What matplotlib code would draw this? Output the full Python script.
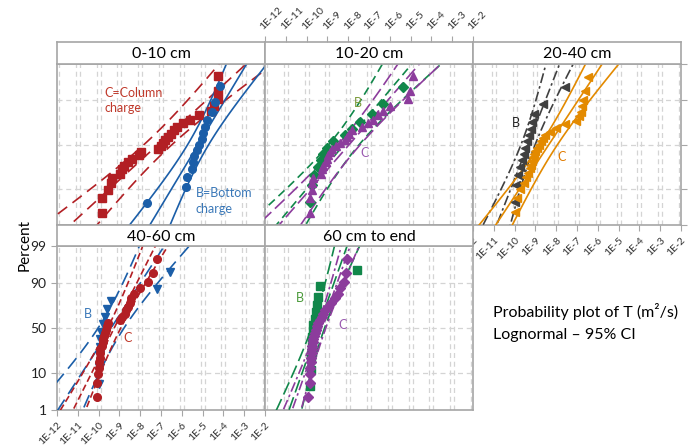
import numpy as np
import matplotlib
matplotlib.use('Agg')
import matplotlib.pyplot as plt
from matplotlib.ticker import NullLocator
from statistics import NormalDist

plt.rcParams['font.family'] = ['Lato', 'DejaVu Sans']

# log10 of T (m2/s), one list per depth / group
t_0_10_c = [-9.85, -9.85, -9.55, -9.40, -9.36, -8.97, -8.88, -8.78, -8.59, -8.39,
            -8.06, -7.96, -7.14, -7.00, -6.90, -6.81, -6.66, -6.52, -6.38, -6.23,
            -5.94, -5.61, -5.17, -4.60, -4.45, -4.26, -4.26, -4.26]
t_0_10_b = [-7.69, -5.81, -5.76, -5.52, -5.48, -5.41, -5.28, -5.16, -5.04, -4.97,
            -4.89, -4.80, -4.56, -4.40, -4.16]
t_10_20_b = [-9.84, -9.74, -9.64, -9.45, -9.31, -9.21, -9.02, -8.73, -8.15, -7.82,
             -7.43, -6.86, -6.33, -5.37]
t_10_20_c = [-9.84, -9.84, -9.76, -9.74, -9.69, -9.31, -9.26, -9.19, -9.07, -9.02,
             -8.95, -8.88, -8.78, -8.59, -8.39, -8.15, -8.06, -7.96, -7.82, -7.34,
             -7.05, -6.81, -6.57, -6.33, -5.99, -5.13, -5.03, -4.89]
t_20_40_b = [-9.98, -9.91, -9.84, -9.74, -9.64, -9.57, -9.48, -9.40, -9.31, -9.21,
             -9.16, -9.07, -8.64, -7.58]
t_20_40_c = [-9.98, -9.89, -9.74, -9.55, -9.45, -9.36, -9.26, -9.21, -9.16, -9.12,
             -9.07, -9.02, -8.92, -8.83, -8.73, -8.64, -8.54, -8.30, -8.01, -7.58,
             -7.05, -6.90, -6.81, -6.76, -6.71, -6.62, -6.47]
t_40_60_b = [-9.98, -9.96, -9.93, -9.91, -9.89, -9.93, -9.79, -9.69, -9.61, -9.40,
             -7.21, -6.57]
t_40_60_c = [-10.06, -10.06, -10.01, -9.98, -9.97, -9.95, -9.93, -9.91, -9.85, -9.81,
             -9.79, -9.74, -9.69, -9.64, -9.60, -9.53, -8.97, -8.88, -8.73, -8.68,
             -8.57, -8.51, -8.44, -8.30, -8.01, -7.61, -7.37, -7.21]
t_60_end_b = [-9.84, -9.81, -9.79, -9.76, -9.74, -9.72, -9.69, -9.67, -9.62, -9.57,
              -9.51, -9.44, -9.36, -7.59]
t_60_end_c = [-9.92, -9.86, -9.84, -9.84, -9.81, -9.79, -9.76, -9.74, -9.72, -9.69,
              -9.68, -9.64, -9.60, -9.55, -9.50, -9.43, -9.36, -9.26, -9.19, -9.12,
              -8.97, -8.83, -8.64, -8.49, -8.39, -8.20, -8.11, -8.07]

# fitted lognormal per group: (location in log10, scale in decades)
fit_0_10_c = (-7.14, 1.82)
fit_0_10_b = (-5.21, 1.0)
fit_10_20_b = (-8.2, 1.4)
fit_10_20_c = (-7.95, 1.45)
fit_20_40_b = (-9.35, 0.65)
fit_20_40_c = (-8.35, 1.1)
fit_40_60_b = (-9.4, 1.1)
fit_40_60_c = (-9.25, 0.85)
fit_60_end_b = (-9.45, 0.6)
fit_60_end_c = (-9.3, 0.6)

titles = ['0-10 cm', '10-20 cm', '20-40 cm', '40-60 cm', '60 cm to end']
decades = list(range(-12, -1))
pct_ticks = [1, 10, 50, 90, 99]

nd = NormalDist()
_ppf = np.vectorize(nd.inv_cdf, otypes=[float])
_cdf = np.vectorize(nd.cdf, otypes=[float])


def fwd(p):
    p = np.clip(np.asarray(p, float), 1e-4, 100 - 1e-4)
    return _ppf(p / 100.0)


def inv(z):
    return _cdf(np.asarray(z, float)) * 100.0


W, H = 689, 447
fig = plt.figure(figsize=(W / 100, H / 100), dpi=100)
frame_col = '#a6a6a6'
grid_col = '#d4d4d4'
xlabels = ['1E%d' % k for k in decades]


def px_axes(x0, y0, w, h):
    return fig.add_axes([x0 / W, 1 - (y0 + h) / H, w / W, h / H])


def draw_group(ax, logs, fit, color, marker, ls, ms=5.5):
    logs = np.sort(np.asarray(logs, float))
    n = len(logs)
    pos = (np.arange(1, n + 1) - 0.3) / (n + 0.4) * 100
    z = np.linspace(-3.3, 3.3, 120)
    mu, s = fit
    mid = mu + s * z
    half = 1.96 * s * np.sqrt(1.0 / n + z ** 2 / (2.0 * n))
    pz = inv(z)
    for curve in (mid - half, mid, mid + half):
        ax.plot(10 ** curve, pz, color=color, ls=ls, lw=1.2, zorder=3)
    ax.plot(10 ** logs, pos, ls='none', marker=marker, color=color, mec=color,
            ms=ms, zorder=4)


col_left = [57, 265, 473]
rows = [(42, 64, 225), (225, 246, 410)]   # strip top, plot top, plot bottom
layout = [(0, 0), (1, 0), (2, 0), (0, 1), (1, 1)]

axes = []
strips = []
for title, (c, r) in zip(titles, layout):
    st, pt, pb = rows[r]
    x0 = col_left[c]

    ax = px_axes(x0, pt, 208, pb - pt)
    ax.set_xscale('log')
    ax.set_yscale('function', functions=(fwd, inv))
    ax.set_xlim(1e-12, 1e-2)
    ax.set_ylim(1, 99)
    for k in decades:
        for off in (-0.1, 0.1):
            ax.axvline(10.0 ** (k + off), color=grid_col, lw=0.9,
                       ls=(0, (4, 3)), zorder=1)
    for p in (10, 50, 90):
        ax.axhline(p, color=grid_col, lw=0.9, ls=(0, (4, 3)), zorder=1)
    for sp in ax.spines.values():
        sp.set_color(frame_col)
        sp.set_linewidth(1.2)
    ax.set_xticks([10.0 ** k for k in decades])
    ax.xaxis.set_minor_locator(NullLocator())
    ax.set_yticks(pct_ticks)
    ax.yaxis.set_minor_locator(NullLocator())
    ax.tick_params(length=0, labelbottom=False, labelleft=False,
                   colors=frame_col)
    axes.append(ax)

    sax = px_axes(x0, st, 208, pt - st)
    sax.set_xscale('log')
    sax.set_xlim(1e-12, 1e-2)
    sax.set_xticks([])
    sax.xaxis.set_minor_locator(NullLocator())
    sax.set_yticks([])
    for sp in sax.spines.values():
        sp.set_color(frame_col)
        sp.set_linewidth(1.2)
    sax.text(0.5, 0.45, title, ha='center', va='center', fontsize=11.5,
             transform=sax.transAxes)
    strips.append(sax)

ax_a, ax_b, ax_c, ax_d, ax_e = axes

# bottom-left panel: x labels bottom, y labels left
ax_d.tick_params(axis='x', length=4, color=frame_col, labelbottom=True)
ax_d.set_xticklabels(xlabels, rotation=45, ha='right', va='top',
                     rotation_mode='anchor', fontsize=7.5, color='#333333')
ax_d.tick_params(axis='y', length=4, color=frame_col, labelleft=True,
                 labelsize=10, labelcolor='#222222')
ax_d.set_yticklabels([str(p) for p in pct_ticks])

# top-middle panel: x labels on top of its strip
sb = strips[1]
sb.set_xticks([10.0 ** k for k in decades])
sb.xaxis.tick_top()
sb.tick_params(axis='x', length=4, color=frame_col, labeltop=True,
               labelbottom=False)
sb.set_xticklabels(xlabels, rotation=45, ha='left', va='bottom',
                   rotation_mode='anchor', fontsize=7.5, color='#333333')

# top-right panel: x labels bottom, y ticks right
ax_c.tick_params(axis='x', length=4, color=frame_col, labelbottom=True)
ax_c.set_xticklabels(xlabels, rotation=45, ha='right', va='top',
                     rotation_mode='anchor', fontsize=7.5, color='#333333')
ax_c.yaxis.tick_right()
ax_c.tick_params(axis='y', length=4, color=frame_col, labelright=False,
                 labelleft=False)

red = '#b21f24'
blue = '#1b5ea8'
green = '#11874a'
purple = '#8c3c9c'
gray = '#404040'
orange = '#e38a00'

draw_group(ax_a, t_0_10_c, fit_0_10_c, red, 's', (0, (7, 4)))
draw_group(ax_a, t_0_10_b, fit_0_10_b, blue, 'o', '-')
draw_group(ax_b, t_10_20_b, fit_10_20_b, green, 'D', (0, (5, 3)), ms=5)
draw_group(ax_b, t_10_20_c, fit_10_20_c, purple, '^', (0, (8, 3)))
draw_group(ax_c, t_20_40_b, fit_20_40_b, gray, '<', (0, (6, 2, 1.5, 2)))
draw_group(ax_c, t_20_40_c, fit_20_40_c, orange, '<', '-')
draw_group(ax_d, t_40_60_b, fit_40_60_b, blue, 'v', (0, (8, 4)))
draw_group(ax_d, t_40_60_c, fit_40_60_c, red, 'o', (0, (4, 2)))
draw_group(ax_e, t_60_end_b, fit_60_end_b, green, 's', (0, (8, 3)))
draw_group(ax_e, t_60_end_c, fit_60_end_c, purple, 'D', (0, (6, 2, 1.5, 2)), ms=5)

ax_a.text(0.226, 0.86, 'C=Column\ncharge', transform=ax_a.transAxes, color='#c0392b',
          fontsize=9, va='top', linespacing=1.35)
ax_a.text(0.668, 0.235, 'B=Bottom\ncharge', transform=ax_a.transAxes, color='#3a78b8',
          fontsize=9, va='top', linespacing=1.35)
ax_b.text(0.447, 0.758, 'B', transform=ax_b.transAxes, color='#7a9a3a', fontsize=9,
          ha='center', va='center')
ax_b.text(0.481, 0.447, 'C', transform=ax_b.transAxes, color='#9a5ab0', fontsize=9,
          ha='center', va='center')
ax_c.text(0.207, 0.634, 'B', transform=ax_c.transAxes, color='#222222', fontsize=9,
          ha='center', va='center')
ax_c.text(0.428, 0.422, 'C', transform=ax_c.transAxes, color='#e07b00', fontsize=9,
          ha='center', va='center')
ax_d.text(0.149, 0.585, 'B', transform=ax_d.transAxes, color='#3a78b8', fontsize=9,
          ha='center', va='center')
ax_d.text(0.341, 0.439, 'C', transform=ax_d.transAxes, color='#c0392b', fontsize=9,
          ha='center', va='center')
ax_e.text(0.168, 0.683, 'B', transform=ax_e.transAxes, color='#4a9a3a', fontsize=9,
          ha='center', va='center')
ax_e.text(0.375, 0.518, 'C', transform=ax_e.transAxes, color='#9a5ab0', fontsize=9,
          ha='center', va='center')

fig.text(25 / W, 1 - 245 / H, 'Percent', rotation=90, ha='center', va='center',
         fontsize=11)
fig.text(493 / W, 1 - 311 / H, 'Probability plot of T (m\u00b2/s)', ha='left',
         va='center', fontsize=11.5)
fig.text(493 / W, 1 - 335 / H, 'Lognormal \u2013 95% CI', ha='left', va='center',
         fontsize=11.5)

fig.savefig('out.png', dpi=100)
